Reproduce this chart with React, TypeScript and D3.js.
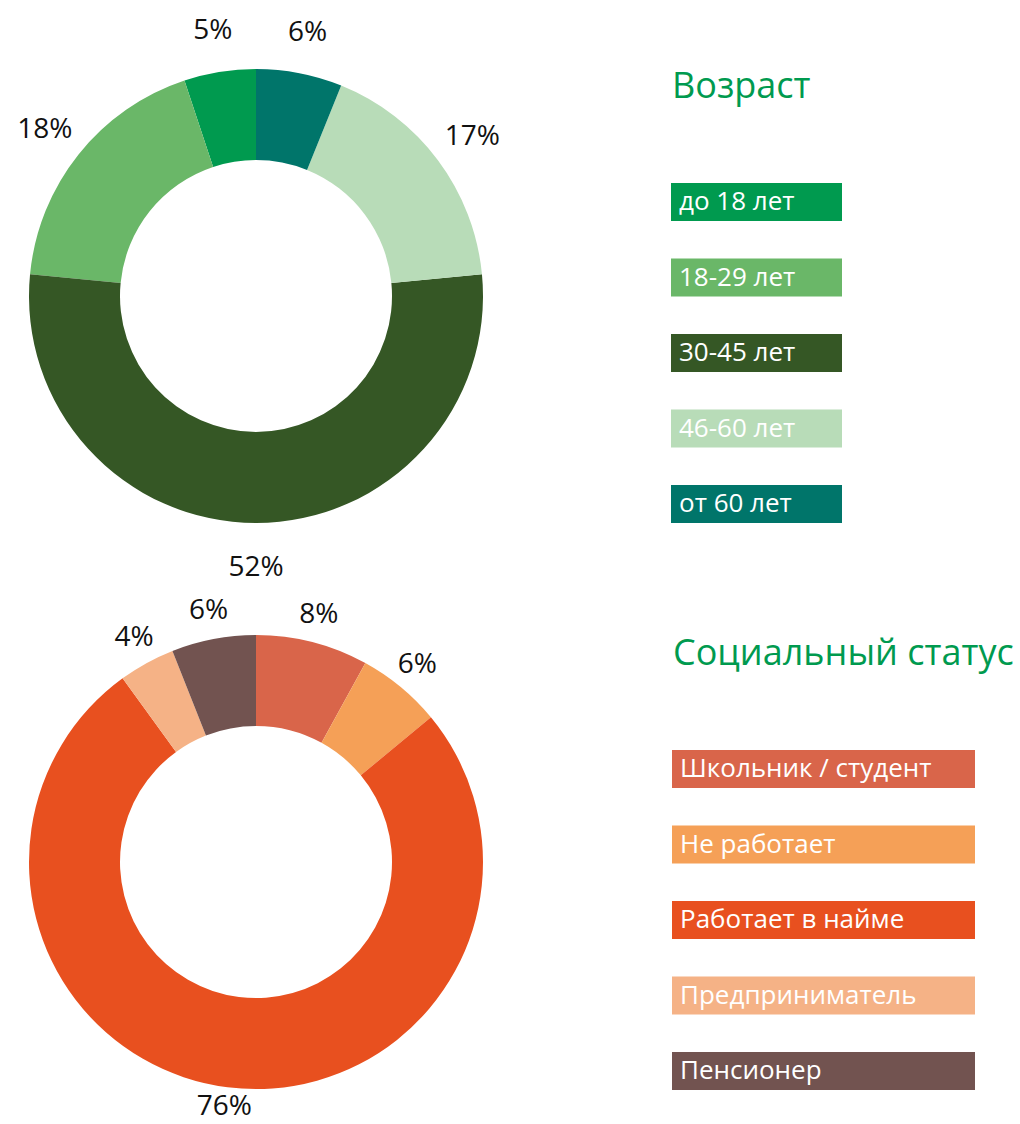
import React from "react";
import * as d3 from "d3";

const ageCategories = ["до 18 лет", "18-29 лет", "30-45 лет", "46-60 лет", "от 60 лет"];
const ageValues = [5, 18, 52, 17, 6];
const ageColors = ["#009a4f", "#6ab768", "#355725", "#b8dcb8", "#00756a"];

const statusCategories = ["Школьник / студент", "Не работает", "Работает в найме", "Предприниматель", "Пенсионер"];
const statusValues = [8, 6, 76, 4, 6];
const statusColors = ["#d9654a", "#f5a057", "#e8501f", "#f5b286", "#725350"];

const FONT = "'Open Sans', sans-serif";
const W = 1020;
const H = 1124;

type DonutProps = {
  cx: number;
  cy: number;
  values: number[];
  colors: string[];
  counterClockwise: boolean;
  labelR: number;
  labelDy: number;
};

function Donut({ cx, cy, values, colors, counterClockwise, labelR, labelDy }: DonutProps) {
  const pie = d3
    .pie<number>()
    .sort(null)
    .value((d) => d)
    .startAngle(counterClockwise ? 2 * Math.PI : 0)
    .endAngle(counterClockwise ? 0 : 2 * Math.PI);
  const arcs = pie(values);
  const arc = d3.arc<d3.PieArcDatum<number>>().innerRadius(136).outerRadius(227);
  const labelArc = d3.arc<d3.PieArcDatum<number>>().innerRadius(labelR).outerRadius(labelR);
  const fontSize = 28;
  const maxY = H - cy - fontSize * 0.72;
  return (
    <g transform={`translate(${cx},${cy})`}>
      {arcs.map((a, i) => (
        <path key={i} d={arc(a) || ""} fill={colors[i]} />
      ))}
      {arcs.map((a, i) => {
        const [x, y] = labelArc.centroid(a);
        return (
          <text
            key={"l" + i}
            x={x}
            y={Math.min(y + labelDy, maxY)}
            textAnchor="middle"
            dominantBaseline="central"
            fontFamily={FONT}
            fontSize={fontSize}
            fill="#111"
          >
            {`${values[i]}%`}
          </text>
        );
      })}
    </g>
  );
}

type LegendProps = {
  x: number;
  y: number;
  title: string;
  categories: string[];
  colors: string[];
  width: number;
  titleY: number;
};

function Legend({ x, y, title, categories, colors, width, titleY }: LegendProps) {
  const band = d3
    .scaleBand<number>()
    .domain(d3.range(categories.length))
    .range([y, y + 75.5 * categories.length]);
  return (
    <g>
      <text x={x + 1} y={titleY} fontFamily={FONT} fontSize={36} fill="#009a4f">
        {title}
      </text>
      {categories.map((c, i) => (
        <g key={i}>
          <rect x={x} y={band(i)!} width={width} height={38} fill={colors[i]} />
          <text
            x={x + 8}
            y={band(i)! + 27}
            fontFamily={FONT}
            fontSize={26}
            fill="#ffffff"
          >
            {c}
          </text>
        </g>
      ))}
    </g>
  );
}

export default function App() {
  return (
    <svg
      width={W}
      height={H}
      style={{ position: "absolute", left: 0, top: 0, display: "block", background: "#fff" }}
    >
      <Donut cx={256} cy={296} values={ageValues} colors={ageColors} counterClockwise={true} labelR={270} labelDy={-1} />
      <Donut cx={256} cy={862} values={statusValues} colors={statusColors} counterClockwise={false} labelR={253} labelDy={-5} />
      <Legend
        x={671}
        y={183}
        title="Возраст"
        categories={ageCategories}
        colors={ageColors}
        width={171}
        titleY={98}
      />
      <Legend
        x={672}
        y={750}
        title="Социальный статус"
        categories={statusCategories}
        colors={statusColors}
        width={303}
        titleY={665}
      />
    </svg>
  );
}
